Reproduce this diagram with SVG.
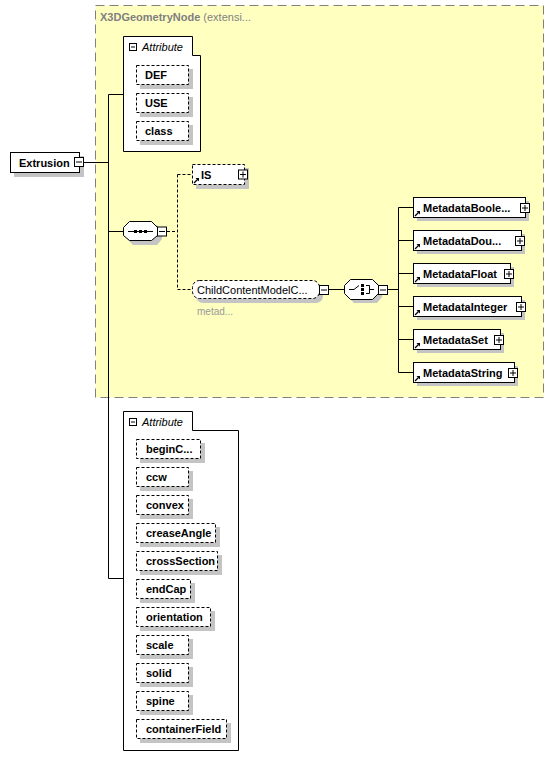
<svg xmlns="http://www.w3.org/2000/svg" width="554" height="768" viewBox="0 0 554 768">
<style>
text{font-family:"Liberation Sans",Arial,sans-serif;font-size:11px;fill:#000}
.b{font-weight:bold}
.it{font-style:italic}
.gray{fill:#808080}
.sh{fill:#c4c4c4;stroke:none}
.box{fill:#fff;stroke:#000;stroke-width:1}
.dbox{fill:#fff;stroke:#000;stroke-width:1;stroke-dasharray:3,2}
.ln{fill:none;stroke:#000;stroke-width:1}
.dln{fill:none;stroke:#000;stroke-width:1;stroke-dasharray:3,2}
</style>
<defs>
<g id="minus"><rect x="0.5" y="0.5" width="9" height="9" fill="#fff" stroke="#000"/><line x1="2" y1="5" x2="8" y2="5" stroke="#000"/></g>
<g id="plus"><rect x="0.5" y="0.5" width="9" height="9" fill="#fff" stroke="#000"/><line x1="2" y1="5" x2="8" y2="5" stroke="#000"/><line x1="5" y1="2" x2="5" y2="8" stroke="#000"/></g>
<g id="ref"><path d="M0,5 L3.5,1.5" stroke="#000" stroke-width="1.2" fill="none"/><polygon points="1.5,0 5,0 5,3.5" fill="#000"/></g>
</defs>

<rect id="ext-bg" x="95.5" y="5.5" width="448" height="392" fill="#ffffc0" stroke="#808080" stroke-dasharray="9,5"/>
<text x="100" y="21" class="gray"><tspan class="b">X3DGeometryNode</tspan> (extensi...</text>

<g id="connectors">
<path class="ln" d="M84,162.5 H108.5 M108.5,94.5 V578.5 M108.5,94.5 H123.5 M108.5,231.5 H123.5 M108.5,578.5 H123.5"/>
<path class="dln" d="M167,231.5 H177.5 M177.5,174.5 V289.5 M177.5,174.5 H192.5 M177.5,289.5 H192.5"/>
<path class="ln" d="M329,289.5 H344.5 M388,289.5 H398.5 M398.5,207.5 V372.5 M398.5,207.5 H413.5 M398.5,240.5 H413.5 M398.5,273.5 H413.5 M398.5,306.5 H413.5 M398.5,339.5 H413.5 M398.5,372.5 H413.5"/>
</g>

<g id="extrusion">
<rect class="sh" x="14" y="156" width="70" height="21"/>
<rect class="box" x="10.5" y="152.5" width="69" height="20"/>
<text x="19" y="167" class="b">Extrusion</text>
<use href="#minus" x="74" y="157"/>
</g>

<g id="attr-top">
<path class="box" d="M123.5,36.5 H192.5 V55.5 H200.5 V151.5 H123.5 Z"/>
<rect x="129.5" y="43.5" width="7" height="7" fill="#fff" stroke="#000"/>
<line x1="131" y1="47" x2="135" y2="47" stroke="#000"/>
<text x="142" y="51" class="it">Attribute</text>
<g id="attr-DEF"><rect class="sh" x="140" y="69" width="53" height="20"/><rect class="dbox" x="136.5" y="65.5" width="52" height="19"/><text x="145" y="79" class="b">DEF</text></g>
<g id="attr-USE"><rect class="sh" x="140" y="97" width="53" height="20"/><rect class="dbox" x="136.5" y="93.5" width="52" height="19"/><text x="145" y="107" class="b">USE</text></g>
<g id="attr-class"><rect class="sh" x="140" y="125" width="53" height="20"/><rect class="dbox" x="136.5" y="121.5" width="52" height="19"/><text x="145" y="135" class="b">class</text></g>
</g>

<g id="sequence">
<path class="sh" d="M133,225 H157 L162,230 V239 L157,245 H133 L127,239 V230 Z"/>
<path class="box" d="M129.5,221.5 H151.5 L157.5,227.5 V235.5 L151.5,240.5 H129.5 L123.5,235.5 V227.5 Z"/>
<line x1="128" y1="231.5" x2="153" y2="231.5" stroke="#000"/>
<rect x="134" y="230" width="3" height="3" fill="#000"/>
<rect x="139" y="230" width="3" height="3" fill="#000"/>
<rect x="144" y="230" width="3" height="3" fill="#000"/>
<use href="#minus" x="157" y="226.5"/>
</g>

<g id="IS">
<rect class="sh" x="196" y="168" width="53" height="21"/>
<rect class="dbox" x="192.5" y="164.5" width="52" height="20"/>
<text x="201" y="179" class="b">IS</text>
<use href="#ref" x="194" y="178"/>
<use href="#plus" x="238" y="169.5"/>
</g>

<g id="childcontent">
<rect class="sh" x="196" y="284" width="127" height="19" rx="7"/>
<rect class="dbox" x="192.5" y="280.5" width="127" height="18" rx="7"/>
<text x="197" y="294">ChildContentModelC...</text>
<text x="197" y="315" class="gray" style="font-size:10px;fill:#999">metad...</text>
<use href="#minus" x="319" y="285"/>
</g>

<g id="choice">
<path class="sh" d="M354,283 H377 L382,288 V297 L377,303 H354 L348,297 V288 Z"/>
<path class="box" d="M350.5,279.5 H372.5 L378.5,285.5 V293.5 L372.5,299.5 H350.5 L344.5,293.5 V285.5 Z"/>
<path class="ln" d="M349,289.5 H354 L359,285.5 M366,285.5 H369.5 V293.5 H366 M369.5,289.5 H374"/>
<rect x="361" y="284" width="3" height="3" fill="#000"/>
<rect x="361" y="288" width="3" height="3" fill="#000"/>
<rect x="361" y="292" width="3" height="3" fill="#000"/>
<use href="#minus" x="378" y="285"/>
</g>

<g id="MetadataBoolean">
<rect class="sh" x="417" y="201" width="112" height="20"/>
<rect class="box" x="413.5" y="197.5" width="112" height="20"/>
<text x="423" y="212" class="b">MetadataBoole...</text>
<use href="#ref" x="415" y="211"/>
<use href="#plus" x="520" y="203"/>
</g>
<g id="MetadataDouble">
<rect class="sh" x="417" y="234" width="108" height="20"/>
<rect class="box" x="413.5" y="230.5" width="108" height="20"/>
<text x="423" y="245" class="b">MetadataDou...</text>
<use href="#ref" x="415" y="244"/>
<use href="#plus" x="515" y="236"/>
</g>
<g id="MetadataFloat">
<rect class="sh" x="417" y="267" width="97" height="20"/>
<rect class="box" x="413.5" y="263.5" width="97" height="20"/>
<text x="423" y="278" class="b">MetadataFloat</text>
<use href="#ref" x="415" y="277"/>
<use href="#plus" x="504" y="269"/>
</g>
<g id="MetadataInteger">
<rect class="sh" x="417" y="300" width="108" height="20"/>
<rect class="box" x="413.5" y="296.5" width="108" height="20"/>
<text x="423" y="311" class="b">MetadataInteger</text>
<use href="#ref" x="415" y="310"/>
<use href="#plus" x="516" y="302"/>
</g>
<g id="MetadataSet">
<rect class="sh" x="417" y="333" width="87" height="20"/>
<rect class="box" x="413.5" y="329.5" width="87" height="20"/>
<text x="423" y="344" class="b">MetadataSet</text>
<use href="#ref" x="415" y="343"/>
<use href="#plus" x="494" y="335"/>
</g>
<g id="MetadataString">
<rect class="sh" x="417" y="366" width="101" height="20"/>
<rect class="box" x="413.5" y="362.5" width="101" height="20"/>
<text x="423" y="377" class="b">MetadataString</text>
<use href="#ref" x="415" y="376"/>
<use href="#plus" x="508" y="368"/>
</g>

<g id="attr-bottom">
<path class="box" d="M123.5,411.5 H192.5 V430.5 H238.5 V750.5 H123.5 Z"/>
<rect x="129.5" y="418.5" width="7" height="7" fill="#fff" stroke="#000"/>
<line x1="131" y1="422" x2="135" y2="422" stroke="#000"/>
<text x="142" y="426" class="it">Attribute</text>
<g id="attr-beginCap"><rect class="sh" x="140" y="443" width="65" height="20"/><rect class="dbox" x="136.5" y="439.5" width="64" height="19"/><text x="146" y="453" class="b">beginC...</text></g>
<g id="attr-ccw"><rect class="sh" x="140" y="471" width="53" height="20"/><rect class="dbox" x="136.5" y="467.5" width="52" height="19"/><text x="146" y="481" class="b">ccw</text></g>
<g id="attr-convex"><rect class="sh" x="140" y="499" width="53" height="20"/><rect class="dbox" x="136.5" y="495.5" width="52" height="19"/><text x="146" y="509" class="b">convex</text></g>
<g id="attr-creaseAngle"><rect class="sh" x="140" y="527" width="80" height="20"/><rect class="dbox" x="136.5" y="523.5" width="79" height="19"/><text x="146" y="537" class="b">creaseAngle</text></g>
<g id="attr-crossSection"><rect class="sh" x="140" y="555" width="82" height="20"/><rect class="dbox" x="136.5" y="551.5" width="81" height="19"/><text x="146" y="565" class="b">crossSection</text></g>
<g id="attr-endCap"><rect class="sh" x="140" y="583" width="55" height="20"/><rect class="dbox" x="136.5" y="579.5" width="54" height="19"/><text x="146" y="593" class="b">endCap</text></g>
<g id="attr-orientation"><rect class="sh" x="140" y="611" width="75" height="20"/><rect class="dbox" x="136.5" y="607.5" width="74" height="19"/><text x="146" y="621" class="b">orientation</text></g>
<g id="attr-scale"><rect class="sh" x="140" y="639" width="53" height="20"/><rect class="dbox" x="136.5" y="635.5" width="52" height="19"/><text x="146" y="649" class="b">scale</text></g>
<g id="attr-solid"><rect class="sh" x="140" y="667" width="53" height="20"/><rect class="dbox" x="136.5" y="663.5" width="52" height="19"/><text x="146" y="677" class="b">solid</text></g>
<g id="attr-spine"><rect class="sh" x="140" y="695" width="53" height="20"/><rect class="dbox" x="136.5" y="691.5" width="52" height="19"/><text x="146" y="705" class="b">spine</text></g>
<g id="attr-containerField"><rect class="sh" x="140" y="723" width="91" height="20"/><rect class="dbox" x="136.5" y="719.5" width="90" height="19"/><text x="146" y="733" class="b">containerField</text></g>
</g>
</svg>
